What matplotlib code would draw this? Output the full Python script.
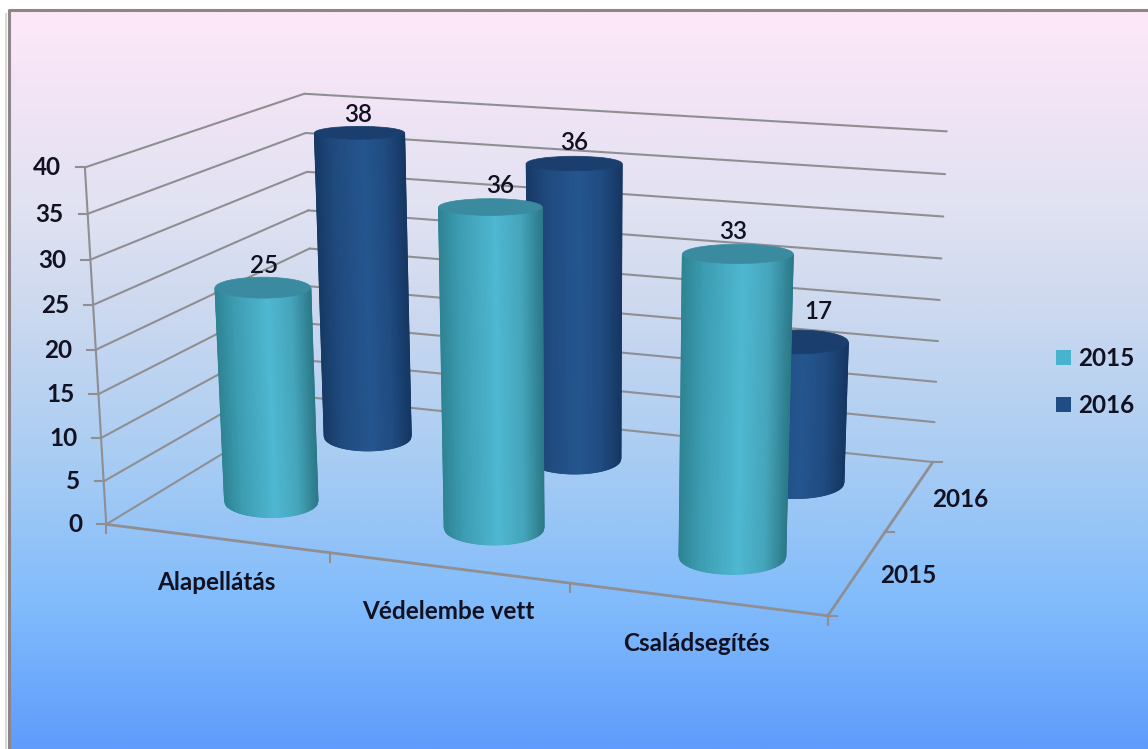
import numpy as np
import matplotlib
matplotlib.use('Agg')
import matplotlib.pyplot as plt
from matplotlib.collections import LineCollection
from matplotlib.colors import LinearSegmentedColormap
from matplotlib.patches import Patch, Ellipse

categories = ['Alapellátás', 'Védelembe vett', 'Családsegítés']
series_names = ['2015', '2016']
values_2015 = [25, 36, 33]
values_2016 = [38, 36, 17]
value_ticks = [0, 5, 10, 15, 20, 25, 30, 35, 40]

side_stops = [
    ['#2f8494', '#3d9db2', '#4fb8d2', '#45a5bb', '#2c7a89'],
    ['#173a66', '#1f4a7e', '#25568f', '#1f4b80', '#163763'],
]
colors_top = ['#3a8b9f', '#1a3f6e']
legend_colors = ['#48b3cf', '#1f4c85']
text_color = '#111122'
grid_color = '#8f8f93'

Z_MAX = 40.0
RX = 0.072
FONT = 17.5

# where the corners of the chart box land in the picture: (x, y, z) -> pixel
box = [(0, 0, 0), (1, 0, 0), (1, 1, 0), (0, 1, 0), (0, 0, 1), (0, 1, 1), (1, 1, 1)]
pix = [(104, 525), (828, 615), (932, 463), (317, 397), (87, 167.5), (302, 94), (947.5, 131)]

# data labels do not sit exactly over their bars: (series, category) -> pixel shift
label_nudge = {(0, 0): (1, 2), (1, 0): (-1, 2), (0, 1): (10, 1), (1, 1): (0, 0),
               (0, 2): (-5, 1), (1, 2): (20, -5)}


def fit_camera():
    rows = []
    rhs = []
    for (x, y, z), (u, v) in zip(box, pix):
        rows.append([x, y, z, 1, 0, 0, 0, 0, -u * x, -u * y, -u * z])
        rhs.append(u)
        rows.append([0, 0, 0, 0, x, y, z, 1, -v * x, -v * y, -v * z])
        rhs.append(v)
    sol = np.linalg.lstsq(np.array(rows, float), np.array(rhs, float), rcond=None)[0]
    return np.append(sol, 1.0).reshape(3, 4)


P = fit_camera()


def project(x, y, z):
    h = P @ np.array([x, y, z, 1.0])
    return h[0] / h[2], h[1] / h[2]


def line3d(ax, a, b, lw=1.5, zorder=2):
    pa = project(*a)
    pb = project(*b)
    ax.plot([pa[0], pb[0]], [pa[1], pb[1]], color=grid_color, lw=lw, zorder=zorder, solid_capstyle='round')


def disc(cx, cy, z):
    # Excel keeps the ends of the cylinders level on screen, so the ellipse is built in pixels
    px, py = project(cx, cy, z)
    rx = (project(cx + RX, cy, z)[0] - project(cx - RX, cy, z)[0]) / 2
    ry = 3.0 + 0.026 * py
    return px, py, rx, ry


def cylinder(ax, cx, cy, h, stops, top, zorder):
    cmap = LinearSegmentedColormap.from_list('side', list(zip([0, 0.2, 0.55, 0.8, 1], stops)))
    bx, by, brx, bry = disc(cx, cy, 0)
    tx, ty, trx, tr_y = disc(cx, cy, h)
    # columns of equal width across the bar, shaded smoothly from one to the next
    u = np.linspace(-1, 1, 81)
    s = np.sqrt(1 - u ** 2)
    xs = np.vstack([tx + trx * u, bx + brx * u])
    ys = np.vstack([ty + tr_y * s, by + bry * s])
    shade = np.vstack([(u + 1) / 2, (u + 1) / 2])
    ax.pcolormesh(xs, ys, shade, shading='gouraud', cmap=cmap, vmin=0, vmax=1, zorder=zorder)
    # the mesh has hard edges, so run a thin line round it
    segs = [[(xs[1, k], ys[1, k]), (xs[1, k + 1], ys[1, k + 1])] for k in range(len(u) - 1)]
    cols = [cmap((u[k] + u[k + 1] + 2) / 4) for k in range(len(u) - 1)]
    segs.append([(xs[0, 0], ys[0, 0]), (xs[1, 0], ys[1, 0])])
    cols.append(cmap(0.0))
    segs.append([(xs[0, -1], ys[0, -1]), (xs[1, -1], ys[1, -1])])
    cols.append(cmap(1.0))
    ax.add_collection(LineCollection(segs, colors=cols, linewidths=0.9, zorder=zorder))
    ax.add_patch(Ellipse((tx, ty), 2 * trx, 2 * tr_y, facecolor=top, edgecolor=top, lw=0.5, zorder=zorder + 0.1))
    return tx, ty - tr_y


fig = plt.figure(figsize=(11.48, 7.49), dpi=100)
plt.rcParams['font.family'] = ['Lato', 'DejaVu Sans']
ax = fig.add_axes([0, 0, 1, 1])

# panel background
stops = [(0.0, '#fde8f8'), (0.13, '#f0e4f5'), (0.27, '#e0e2f2'), (0.40, '#cdd9ef'),
         (0.60, '#aacdf3'), (0.80, '#82bcfb'), (1.0, '#5f9cfc')]
bg = LinearSegmentedColormap.from_list('bg', stops)
ax.imshow(np.linspace(0, 1, 400).reshape(-1, 1), cmap=bg, extent=(9, 1148, 749, 11), aspect='auto', zorder=0)
ax.plot([8.5, 8.5, 1148], [749, 10, 10], color='#8d8587', lw=2.2, zorder=1)
ax.plot([6, 6], [14, 749], color='#d8d8d8', lw=1.5, zorder=1)

# walls and floor
for v in value_ticks:
    z = v / Z_MAX
    line3d(ax, (0, 0, z), (0, 1, z))
    line3d(ax, (0, 1, z), (1, 1, z))
    px, py = project(0, 0, z)
    ax.plot([px - 9, px], [py, py], color=grid_color, lw=1.5, zorder=2)
    ax.text(px - 24, py + 0.5, str(v), ha='right', va='center', fontsize=FONT, fontweight='bold', color=text_color, zorder=5)
line3d(ax, (0, 0, 0), (0, 0, 1))
line3d(ax, (0, 0, 0), (1, 0, 0), lw=2)
line3d(ax, (1, 0, 0), (1, 1, 0), lw=2)

n_cat = len(categories)
n_ser = len(series_names)
for i in range(n_cat + 1):
    px, py = project(i / n_cat, 0, 0)
    ax.plot([px, px], [py, py + 9], color=grid_color, lw=1.5, zorder=2)
for j in range(n_ser + 1):
    px, py = project(1, j / n_ser, 0)
    ax.plot([px, px + 9], [py, py], color=grid_color, lw=1.5, zorder=2)

for i, name in enumerate(categories):
    px, py = project((i + 0.5) / n_cat, 0, 0)
    ax.text(px, py + 44, name, ha='center', va='center', fontsize=FONT, fontweight='bold', color=text_color, zorder=5)
for j, name in enumerate(series_names):
    px, py = project(1, (j + 0.5) / n_ser, 0)
    ax.text(px + 22, py + 4, name, ha='left', va='center', fontsize=FONT, fontweight='bold', color=text_color, zorder=5)

# bars, back row first
all_values = [values_2015, values_2016]
for j in [1, 0]:
    for i in range(n_cat):
        v = all_values[j][i]
        zo = 10 + (1 - j) * 10 + i
        tx, ty = cylinder(ax, (i + 0.5) / n_cat, (j + 0.5) / n_ser, v / Z_MAX, side_stops[j], colors_top[j], zo)
        dx, dy = label_nudge[(j, i)]
        ax.text(tx + dx, ty - 14 + dy, str(v), ha='center', va='center', fontsize=FONT, fontweight='semibold', color=text_color, zorder=40)

handles = [Patch(facecolor=legend_colors[k], edgecolor='none', label=series_names[k]) for k in range(n_ser)]
ax.legend(handles=handles, loc='center left', bbox_to_anchor=(1056 / 1148, 1 - 382 / 749), frameon=False,
          handlelength=0.6, handleheight=0.6, handletextpad=0.3, labelspacing=1.0,
          prop={'size': FONT, 'weight': 'bold'}, labelcolor=text_color, borderpad=0, borderaxespad=0)

ax.set_xlim(0, 1148)
ax.set_ylim(749, 0)
ax.axis('off')

fig.savefig('out.png', dpi=100, facecolor='white')
